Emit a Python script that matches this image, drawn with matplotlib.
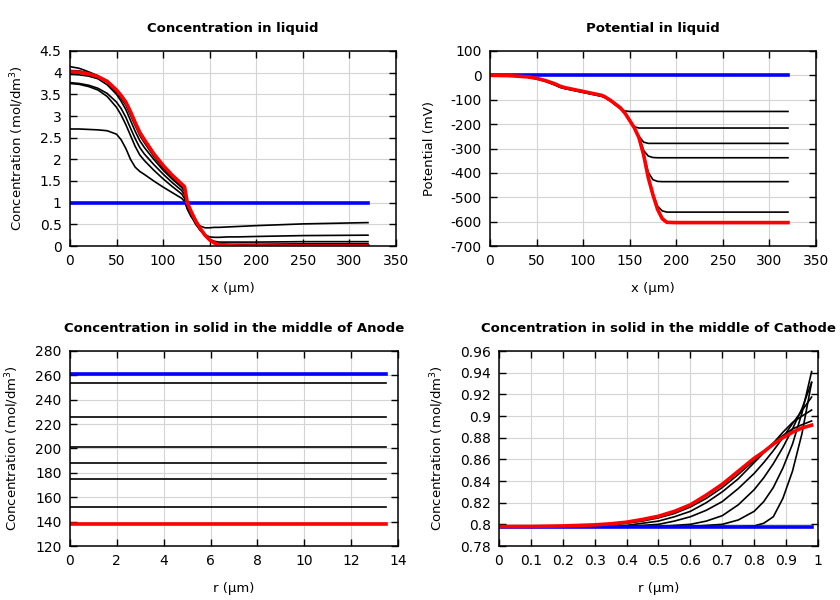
import numpy as np
import matplotlib
matplotlib.use('Agg')
import matplotlib.pyplot as plt
from matplotlib.ticker import FuncFormatter, MultipleLocator

# ---- concentration in liquid (mol/dm3) vs x (um)
x_liq = [0, 10, 20, 30, 40, 50, 55, 60, 65, 70, 75, 80, 90, 100, 110, 120, 123, 126,
         130, 135, 140, 145, 150, 155, 160, 170, 180, 200, 250, 320]
c_init = [1.0] * len(x_liq)
c_t1 = [2.70, 2.70, 2.69, 2.68, 2.66, 2.58, 2.45, 2.25, 2.00, 1.82, 1.72, 1.65, 1.50, 1.36, 1.23, 1.10, 1.03, 0.85,
        0.68, 0.55, 0.46, 0.42, 0.42, 0.43, 0.43, 0.44, 0.45, 0.47, 0.51, 0.54]
c_t2 = [3.75, 3.73, 3.68, 3.60, 3.45, 3.20, 3.02, 2.80, 2.55, 2.30, 2.10, 1.97, 1.75, 1.55, 1.37, 1.20, 1.10, 0.88,
        0.70, 0.50, 0.36, 0.26, 0.21, 0.20, 0.20, 0.21, 0.21, 0.22, 0.24, 0.25]
c_t3 = [3.77, 3.75, 3.71, 3.64, 3.52, 3.32, 3.17, 2.97, 2.72, 2.48, 2.27, 2.12, 1.88, 1.66, 1.46, 1.28, 1.18, 0.92,
        0.72, 0.52, 0.36, 0.24, 0.15, 0.11, 0.09, 0.09, 0.09, 0.09, 0.10, 0.10]
c_t4 = [3.96, 3.95, 3.92, 3.86, 3.72, 3.50, 3.34, 3.15, 2.90, 2.65, 2.43, 2.27, 2.00, 1.75, 1.54, 1.35, 1.26, 0.96,
        0.76, 0.55, 0.38, 0.24, 0.14, 0.08, 0.05, 0.04, 0.04, 0.04, 0.05, 0.05]
c_t5 = [4.14, 4.10, 4.02, 3.93, 3.78, 3.55, 3.41, 3.25, 3.02, 2.78, 2.55, 2.38, 2.07, 1.80, 1.58, 1.38, 1.30, 0.98,
        0.78, 0.57, 0.39, 0.25, 0.14, 0.07, 0.04, 0.02, 0.02, 0.02, 0.02, 0.03]
c_t6 = [4.05, 4.04, 3.99, 3.92, 3.79, 3.58, 3.44, 3.29, 3.07, 2.82, 2.59, 2.42, 2.11, 1.84, 1.61, 1.41, 1.34, 0.99,
        0.79, 0.58, 0.40, 0.25, 0.14, 0.07, 0.03, 0.015, 0.01, 0.01, 0.01, 0.01]
c_final = [4.02, 4.01, 3.97, 3.91, 3.80, 3.60, 3.47, 3.32, 3.10, 2.85, 2.62, 2.45, 2.13, 1.86, 1.63, 1.43, 1.37, 1.00,
           0.80, 0.58, 0.40, 0.25, 0.14, 0.07, 0.03, 0.01, 0.0, 0.0, 0.0, 0.0]

# ---- potential in liquid (mV) vs x (um)
x_pot = [0, 20, 40, 50, 60, 70, 75, 80, 90, 100, 110, 120, 123, 130, 140, 145, 150,
         155, 160, 165, 170, 175, 180, 185, 190, 200, 250, 320]
p_init = [0.0] * len(x_pot)
p_t1 = [0, -1, -7, -14, -25, -40, -49, -54, -62, -70, -78, -86, -90, -107, -137, -146, -148,
        -148, -148, -148, -148, -148, -148, -148, -148, -148, -148, -148]
p_t2 = [0, -1, -7, -14, -24, -39, -48, -53, -61, -69, -77, -85, -89, -106, -135, -156, -186,
        -211, -216, -216, -216, -216, -216, -216, -216, -216, -216, -216]
p_t3 = [0, -1, -7, -13, -24, -38, -47, -52, -60, -68, -76, -84, -89, -105, -134, -155, -184,
        -215, -250, -274, -279, -279, -279, -279, -279, -279, -279, -279]
p_t4 = [0, -1, -6, -13, -23, -37, -46, -51, -59, -67, -75, -83, -88, -105, -134, -155, -185,
        -215, -253, -308, -331, -337, -338, -338, -338, -338, -338, -338]
p_t5 = [0, -1, -6, -13, -23, -37, -45, -51, -59, -67, -75, -83, -88, -104, -134, -155, -185,
        -215, -254, -322, -398, -428, -435, -436, -436, -436, -436, -436]
p_t6 = [0, -1, -6, -12, -22, -36, -45, -50, -58, -66, -74, -82, -87, -104, -133, -155, -185,
        -215, -255, -324, -418, -487, -537, -556, -561, -561, -561, -561]
p_final = [0, -1, -6, -12, -22, -35, -44, -50, -58, -66, -74, -82, -87, -104, -133, -155, -185,
           -215, -256, -326, -420, -490, -550, -588, -603, -604, -604, -604]

# ---- concentration in solid, middle of anode, vs r (um)
r_an = [0.0, 13.5]
an_init = [261, 261]
an_levels = [253.5, 226, 201, 188, 175, 152]
an_final = [138, 138]

# ---- concentration in solid, middle of cathode, vs r (um)
r_ca = [0, 0.1, 0.2, 0.3, 0.35, 0.4, 0.45, 0.5, 0.55, 0.6, 0.65, 0.7, 0.75, 0.8,
        0.83, 0.86, 0.89, 0.92, 0.95, 0.98]
ca_init = [0.798] * len(r_ca)
ca_t1 = [0.798, 0.798, 0.798, 0.798, 0.798, 0.798, 0.798, 0.798, 0.798, 0.798, 0.798, 0.798, 0.798, 0.7985,
         0.801, 0.807, 0.824, 0.849, 0.884, 0.931]
ca_t2 = [0.798, 0.798, 0.798, 0.798, 0.798, 0.798, 0.798, 0.798, 0.798, 0.798, 0.799, 0.800, 0.804, 0.812,
         0.821, 0.834, 0.852, 0.874, 0.903, 0.941]
ca_t3 = [0.798, 0.798, 0.798, 0.798, 0.798, 0.798, 0.798, 0.798, 0.799, 0.800, 0.803, 0.808, 0.818, 0.832,
         0.843, 0.856, 0.871, 0.888, 0.907, 0.931]
ca_t4 = [0.798, 0.798, 0.798, 0.798, 0.798, 0.798, 0.799, 0.800, 0.803, 0.807, 0.813, 0.821, 0.833, 0.847,
         0.857, 0.868, 0.880, 0.893, 0.905, 0.9175]
ca_t5 = [0.798, 0.798, 0.798, 0.798, 0.798, 0.799, 0.801, 0.803, 0.807, 0.812, 0.820, 0.830, 0.842, 0.857,
         0.866, 0.875, 0.885, 0.894, 0.900, 0.9055]
ca_t6 = [0.798, 0.798, 0.798, 0.7985, 0.7995, 0.801, 0.803, 0.806, 0.810, 0.816, 0.824, 0.834, 0.846, 0.859,
         0.867, 0.875, 0.882, 0.888, 0.892, 0.8954]
ca_final = [0.798, 0.798, 0.7985, 0.7995, 0.8005, 0.802, 0.8045, 0.8075, 0.812, 0.818, 0.827, 0.837, 0.849, 0.861,
            0.867, 0.874, 0.880, 0.885, 0.889, 0.8915]

fmt = FuncFormatter(lambda v, p: '%g' % round(v, 6))


def style(ax, xlim, xstep, ylim, ystep):
    ax.set_xlim(*xlim)
    ax.set_ylim(*ylim)
    ax.xaxis.set_major_locator(MultipleLocator(xstep))
    ax.yaxis.set_major_locator(MultipleLocator(ystep))
    ax.xaxis.set_major_formatter(fmt)
    ax.yaxis.set_major_formatter(fmt)
    ax.tick_params(direction='in', top=True, right=True, length=5, width=1, labelsize=10, pad=6)
    ax.grid(True, color='#d4d4d4', lw=0.8)
    ax.set_axisbelow(True)
    for s in ax.spines.values():
        s.set_linewidth(1.1)


def labels(ax, title, xl, yl):
    ax.set_title(title, fontsize=9.5, fontweight='bold', pad=14)
    ax.set_xlabel(xl, fontsize=9.5, labelpad=10)
    ax.set_ylabel(yl, fontsize=9.5, labelpad=10)


fig = plt.figure(figsize=(8.4, 6), dpi=100)
ax1 = fig.add_axes([0.0833, 0.59, 0.388, 0.325])
ax2 = fig.add_axes([0.5833, 0.59, 0.388, 0.325])
ax3 = fig.add_axes([0.0833, 0.09, 0.3905, 0.325])
ax4 = fig.add_axes([0.594, 0.09, 0.3798, 0.325])

lw_k, lw_c = 1.2, 2.6
conc = 'Concentration (mol/dm$^3$)'

for c in [c_t1, c_t2, c_t3, c_t4, c_t5, c_t6]:
    ax1.plot(x_liq, c, 'k', lw=lw_k)
ax1.plot(x_liq, c_init, color='#0000ff', lw=lw_c)
ax1.plot(x_liq, c_final, color='#ff0000', lw=lw_c)
style(ax1, (0, 350), 50, (0, 4.5), 0.5)
labels(ax1, 'Concentration in liquid', 'x (µm)', conc)

for p in [p_t1, p_t2, p_t3, p_t4, p_t5, p_t6]:
    ax2.plot(x_pot, p, 'k', lw=lw_k)
ax2.plot(x_pot, p_init, color='#0000ff', lw=lw_c)
ax2.plot(x_pot, p_final, color='#ff0000', lw=lw_c)
style(ax2, (0, 350), 50, (-700, 100), 100)
labels(ax2, 'Potential in liquid', 'x (µm)', 'Potential (mV)')

for lv in an_levels:
    ax3.plot(r_an, [lv, lv], 'k', lw=lw_k)
ax3.plot(r_an, an_init, color='#0000ff', lw=lw_c)
ax3.plot(r_an, an_final, color='#ff0000', lw=lw_c)
style(ax3, (0, 14), 2, (120, 280), 20)
labels(ax3, 'Concentration in solid in the middle of Anode', 'r (µm)', conc)

for c in [ca_t1, ca_t2, ca_t3, ca_t4, ca_t5, ca_t6]:
    ax4.plot(r_ca, c, 'k', lw=lw_k)
ax4.plot(r_ca, ca_init, color='#0000ff', lw=lw_c)
ax4.plot(r_ca, ca_final, color='#ff0000', lw=lw_c)
style(ax4, (0, 1), 0.1, (0.78, 0.96), 0.02)
labels(ax4, 'Concentration in solid in the middle of Cathode', 'r (µm)', conc)

fig.savefig('out.png', dpi=100)
